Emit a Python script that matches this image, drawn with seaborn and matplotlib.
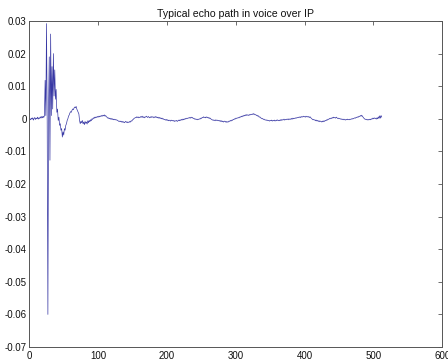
import numpy as np
import pandas as pd
import matplotlib
matplotlib.use("Agg")
import matplotlib.pyplot as plt
import seaborn as sns

title = "Typical echo path in voice over IP"
x_ticks = [0, 100, 200, 300, 400, 500, 600]
y_ticks = [0.03, 0.02, 0.01, 0.0, -0.01, -0.02, -0.03, -0.04, -0.05, -0.06, -0.07]
y_tick_labels = ["0.03", "0.02", "0.01", "0", "-0.01", "-0.02", "-0.03",
                 "-0.04", "-0.05", "-0.06", "-0.07"]

# echo path impulse response (512 taps)
echo = [
    0.0000, -0.0003, 0.0002, -0.0001, 0.0003, -0.0004, 0.0001, 0.0004, -0.0002, 0.0002, 0.0000, 0.0005, -0.0001, 0.0003, 0.0001, 0.0006,
    0.0002, 0.0007, 0.0003, 0.0008, 0.0004, 0.0010, 0.0118, 0.0010, 0.0292, -0.0010, -0.0600, 0.0040, 0.0190, -0.0127, 0.0260, 0.0010,
    0.0160, 0.0030, 0.0200, 0.0070, 0.0150, 0.0060, 0.0090, 0.0020, 0.0030, -0.0005, 0.0005, -0.0020, -0.0015, -0.0035, -0.0030, -0.0056,
    -0.0040, -0.0050, -0.0030, -0.0035, -0.0020, -0.0015, -0.0005, 0.0000, 0.0008, 0.0012, 0.0018, 0.0022, 0.0020, 0.0026, 0.0030, 0.0028,
    0.0033, 0.0036, 0.0034, 0.0038, 0.0030, 0.0025, 0.0020, 0.0015, -0.0005, -0.0015, -0.0008, -0.0012, -0.0005, -0.0015, -0.0010, -0.0018,
    -0.0008, -0.0014, -0.0010, -0.0016, -0.0006, -0.0012, -0.0005, -0.0009, -0.0003, -0.0006, 0.0000, -0.0002, 0.0003, 0.0001, 0.0005, 0.0003,
    0.0006, 0.0004, 0.0007, 0.0005, 0.0008, 0.0006, 0.0009, 0.0007, 0.0010, 0.0008, 0.0011, 0.0009, 0.0012, 0.0008, 0.0010, 0.0006,
    0.0005, 0.0002, 0.0003, 0.0000, 0.0002, -0.0001, 0.0001, -0.0002, 0.0000, -0.0003, -0.0001, -0.0003, -0.0002, -0.0004, -0.0003, -0.0005,
    -0.0006, -0.0008, -0.0007, -0.0009, -0.0007, -0.0010, -0.0008, -0.0011, -0.0009, -0.0012, -0.0010, -0.0008, -0.0011, -0.0009, -0.0012, -0.0010,
    -0.0011, -0.0008, -0.0010, -0.0006, -0.0007, -0.0003, -0.0002, 0.0001, 0.0002, 0.0004, 0.0003, 0.0006, 0.0004, 0.0006, 0.0003, 0.0005,
    0.0004, 0.0007, 0.0005, 0.0008, 0.0004, 0.0006, 0.0003, 0.0006, 0.0005, 0.0008, 0.0006, 0.0004, 0.0007, 0.0005, 0.0003, 0.0006,
    0.0004, 0.0007, 0.0005, 0.0006, 0.0003, 0.0005, 0.0007, 0.0004, 0.0006, 0.0003, 0.0005, 0.0002, 0.0004, 0.0001, 0.0003, 0.0000,
    0.0002, -0.0001, 0.0000, -0.0003, -0.0002, -0.0004, -0.0002, -0.0005, -0.0003, -0.0006, -0.0004, -0.0005, -0.0007, -0.0004, -0.0006, -0.0005,
    -0.0007, -0.0005, -0.0008, -0.0006, -0.0007, -0.0005, -0.0008, -0.0006, -0.0004, -0.0006, -0.0003, -0.0005, -0.0002, -0.0004, -0.0001, -0.0003,
    0.0000, -0.0002, 0.0001, 0.0000, 0.0002, 0.0001, 0.0003, 0.0002, 0.0004, 0.0002, 0.0005, 0.0003, 0.0004, 0.0001, 0.0002, -0.0001,
    0.0000, -0.0002, -0.0001, -0.0003, -0.0001, -0.0002, 0.0000, -0.0001, 0.0002, 0.0001, 0.0004, 0.0003, 0.0006, 0.0004, 0.0005, 0.0003,
    0.0006, 0.0004, 0.0005, 0.0002, 0.0004, 0.0001, 0.0002, -0.0001, -0.0002, -0.0004, -0.0003, -0.0005, -0.0004, -0.0006, -0.0003, -0.0005,
    -0.0004, -0.0006, -0.0005, -0.0007, -0.0005, -0.0008, -0.0006, -0.0009, -0.0007, -0.0010, -0.0008, -0.0007, -0.0010, -0.0008, -0.0011, -0.0009,
    -0.0010, -0.0007, -0.0008, -0.0005, -0.0007, -0.0004, -0.0005, -0.0002, -0.0003, 0.0000, -0.0001, 0.0002, 0.0001, 0.0003, 0.0002, 0.0004,
    0.0003, 0.0006, 0.0005, 0.0008, 0.0006, 0.0009, 0.0008, 0.0011, 0.0009, 0.0012, 0.0010, 0.0013, 0.0011, 0.0012, 0.0010, 0.0013,
    0.0012, 0.0014, 0.0013, 0.0015, 0.0013, 0.0016, 0.0014, 0.0012, 0.0013, 0.0010, 0.0011, 0.0008, 0.0009, 0.0005, 0.0006, 0.0003,
    0.0002, 0.0000, 0.0001, -0.0002, -0.0001, -0.0003, -0.0004, -0.0003, -0.0005, -0.0004, -0.0006, -0.0005, -0.0007, -0.0005, -0.0006, -0.0004,
    -0.0007, -0.0005, -0.0006, -0.0004, -0.0007, -0.0005, -0.0006, -0.0003, -0.0005, -0.0006, -0.0004, -0.0006, -0.0003, -0.0005, -0.0002, -0.0004,
    -0.0003, -0.0001, -0.0004, -0.0002, -0.0003, -0.0001, -0.0002, 0.0000, -0.0003, -0.0001, 0.0000, -0.0002, 0.0001, -0.0001, 0.0002, 0.0000,
    0.0002, 0.0001, 0.0003, 0.0002, 0.0004, 0.0003, 0.0005, 0.0004, 0.0006, 0.0004, 0.0007, 0.0005, 0.0006, 0.0008, 0.0006, 0.0007,
    0.0005, 0.0008, 0.0006, 0.0007, 0.0005, 0.0007, 0.0004, 0.0006, 0.0003, 0.0001, -0.0001, -0.0003, -0.0002, -0.0004, -0.0003, -0.0006,
    -0.0004, -0.0007, -0.0005, -0.0008, -0.0006, -0.0009, -0.0007, -0.0008, -0.0010, -0.0007, -0.0009, -0.0006, -0.0008, -0.0005, -0.0006, -0.0003,
    -0.0004, -0.0001, -0.0002, 0.0001, 0.0000, 0.0002, 0.0001, 0.0004, 0.0002, 0.0005, 0.0003, 0.0004, 0.0002, 0.0005, 0.0003, 0.0001,
    0.0002, 0.0000, 0.0001, -0.0001, 0.0000, -0.0002, -0.0001, -0.0003, -0.0001, -0.0002, -0.0004, -0.0002, -0.0003, -0.0001, -0.0003, -0.0002,
    -0.0003, -0.0001, -0.0002, 0.0000, -0.0001, 0.0001, 0.0000, 0.0002, 0.0003, 0.0002, 0.0005, 0.0004, 0.0006, 0.0005, 0.0008, 0.0007,
    0.0010, 0.0008, 0.0011, 0.0007, 0.0005, 0.0002, 0.0000, -0.0002, -0.0001, -0.0003, -0.0002, -0.0004, -0.0002, -0.0003, -0.0001, -0.0003,
    0.0000, -0.0001, 0.0002, 0.0000, 0.0003, 0.0001, 0.0002, -0.0001, 0.0003, 0.0000, 0.0006, 0.0001, 0.0009, 0.0002, 0.0010, 0.0005,
]
taps = np.arange(1, len(echo) + 1)

df = pd.DataFrame({"tap": taps, "h": echo})

sns.set_style("white")
plt.rcParams["font.family"] = ["Liberation Sans", "DejaVu Sans"]

fig = plt.figure(figsize=(4.48, 3.62), dpi=100)
ax = fig.add_axes([0.0654, 0.0414, 0.9219, 0.9006])

sns.lineplot(data=df, x="tap", y="h", ax=ax, color="#3838a4",
             linewidth=0.5, estimator=None, sort=False)

ax.set_xlim(0, 600)
ax.set_ylim(-0.07, 0.03)
ax.set_xticks(x_ticks)
ax.set_xticklabels([str(t) for t in x_ticks])
ax.set_yticks(y_ticks)
ax.set_yticklabels(y_tick_labels)
ax.set_xlabel("")
ax.set_ylabel("")
ax.set_title(title, fontsize=7.6, pad=3, color="#111111")

edge = "#555555"
for s in ax.spines.values():
    s.set_visible(True)
    s.set_color(edge)
    s.set_linewidth(0.7)
ax.tick_params(axis="both", which="major", direction="in", length=3,
               width=0.6, color=edge, labelsize=7.0, labelcolor="#111111",
               top=True, right=True)
ax.tick_params(axis="y", pad=2)
ax.tick_params(axis="x", pad=3)

fig.savefig("out.png", dpi=100)
